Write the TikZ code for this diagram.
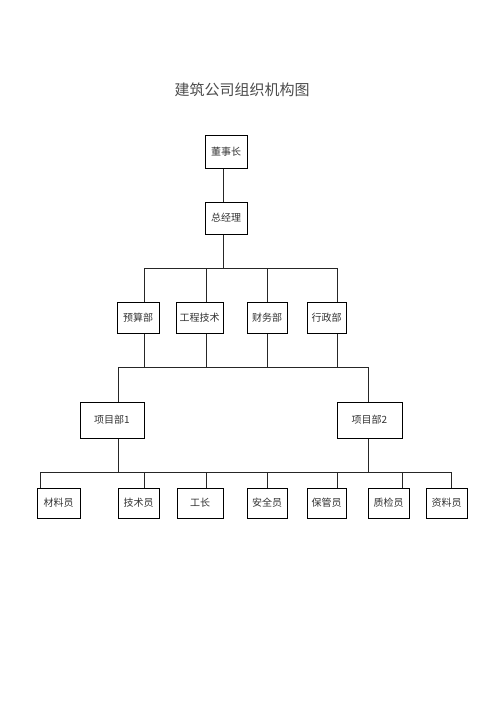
\documentclass[tikz,border=0pt]{standalone}
\usepackage{fontspec}
\newfontfamily\cjk{Noto Sans CJK SC}
\usetikzlibrary{positioning}

\begin{document}
\begin{tikzpicture}
    [
        x=1pt, y=-1pt,
        font=\cjk\fontsize{10}{12}\selectfont,
        box/.style   ={draw=black, line width=1pt, inner sep=1pt,
                       text=black!80, minimum height=30},
        link/.style  ={draw=black!85, line width=0.7pt},
        heading/.style={font=\cjk\fontsize{15}{18}\selectfont, text=black!70}
    ]

    \fill[white] (0,0) rectangle (500,707);
    \useasboundingbox (0,0) rectangle (500,707);

    \node[heading]  (title)   at (242,90)     {建筑公司组织机构图};

    % top
    \node[box, minimum width=42, minimum height=33] (dsz) at (226,151.5) {董事长};
    \node[box, minimum width=42, minimum height=32] (zjl) at (226,218)   {总经理};

    % departments
    \node[box, minimum width=42, minimum height=31] (ys)  at (138,317.5)   {预算部};
    \node[box, minimum width=47, minimum height=31] (gc)  at (199.5,317.5) {工程技术};
    \node[box, minimum width=40, minimum height=31] (cw)  at (267,317.5)   {财务部};
    \node[box, minimum width=39, minimum height=31] (xz)  at (326.5,317.5) {行政部};

    % projects
    \node[box, minimum width=64, minimum height=36] (xm1) at (112,420)   {项目部1};
    \node[box, minimum width=65, minimum height=36] (xm2) at (369.5,420) {项目部2};

    % staff
    \node[box, minimum width=43] (cly) at (58.5,503)  {材料员};
    \node[box, minimum width=41] (jsy) at (138.5,503) {技术员};
    \node[box, minimum width=46] (gz)  at (200,503)   {工长};
    \node[box, minimum width=40] (aqy) at (267,503)   {安全员};
    \node[box, minimum width=39] (bgy) at (326.5,503) {保管员};
    \node[box, minimum width=41] (zjy) at (388.5,503) {质检员};
    \node[box, minimum width=41] (zly) at (446.5,503) {资料员};

    % bus points
    \coordinate (a0) at (223,268);
    \coordinate (a1) at (144,268);
    \coordinate (a2) at (206,268);
    \coordinate (a3) at (267,268);
    \coordinate (a4) at (337,268);

    \coordinate (b1) at (118,367);
    \coordinate (b2) at (368,367);

    \coordinate (c1) at (40,472);
    \coordinate (c2) at (144,472);
    \coordinate (c3) at (206,472);
    \coordinate (c4) at (267,472);
    \coordinate (c5) at (337,472);
    \coordinate (c6) at (402,472);
    \coordinate (c7) at (451,472);

    \draw[link]     (dsz.south -| a0) -- (zjl.north -| a0);
    \draw[link]     (zjl.south -| a0) -- (a0);
    \draw[link]     (a1) -- (a4);

    \draw[link]     (a1) -- (ys.north -| a1);
    \draw[link]     (a2) -- (gc.north -| a2);
    \draw[link]     (a3) -- (cw.north -| a3);
    \draw[link]     (a4) -- (xz.north -| a4);

    \draw[link]     (ys.south -| a1) -- (b1 -| a1);
    \draw[link]     (gc.south -| a2) -- (b1 -| a2);
    \draw[link]     (cw.south -| a3) -- (b1 -| a3);
    \draw[link]     (xz.south -| a4) -- (b1 -| a4);
    \draw[link]     (b1) -- (b2);

    \draw[link]     (b1) -- (xm1.north -| b1);
    \draw[link]     (b2) -- (xm2.north -| b2);

    \draw[link]     (xm1.south -| b1) -- (c1 -| b1);
    \draw[link]     (xm2.south -| b2) -- (c1 -| b2);
    \draw[link]     (c1) -- (c7);

    \draw[link]     (c1) -- (cly.north -| c1);
    \draw[link]     (c2) -- (jsy.north -| c2);
    \draw[link]     (c3) -- (gz.north -| c3);
    \draw[link]     (c4) -- (aqy.north -| c4);
    \draw[link]     (c5) -- (bgy.north -| c5);
    \draw[link]     (c6) -- (zjy.north -| c6);
    \draw[link]     (c7) -- (zly.north -| c7);

\end{tikzpicture}
\end{document}
